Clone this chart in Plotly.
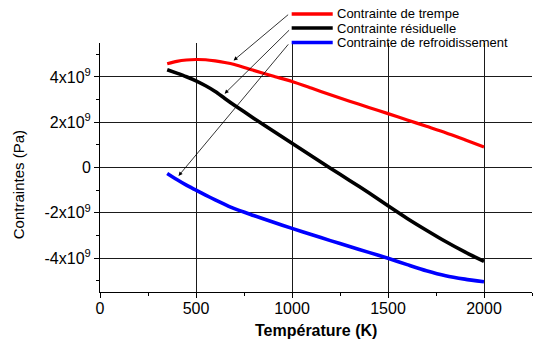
import plotly.graph_objects as go

# ---- data ----
temperature = [350, 400, 450, 500, 550, 600, 650, 700, 800, 900, 1000, 1100,
               1200, 1300, 1400, 1500, 1600, 1700, 1800, 1900, 2000]
trempe = [4.58e9, 4.69e9, 4.75e9, 4.77e9, 4.76e9, 4.71e9, 4.64e9, 4.55e9, 4.29e9,
          4.04e9, 3.80e9, 3.51e9, 3.21e9, 2.93e9, 2.65e9, 2.38e9, 2.10e9, 1.82e9,
          1.54e9, 1.23e9, 0.91e9]
residuelle = [4.32e9, 4.17e9, 4.01e9, 3.83e9, 3.61e9, 3.36e9, 3.05e9, 2.75e9, 2.18e9,
              1.62e9, 1.07e9, 0.52e9, -0.03e9, -0.57e9, -1.12e9, -1.69e9, -2.25e9,
              -2.77e9, -3.27e9, -3.73e9, -4.15e9]
refroid = [-0.26e9, -0.53e9, -0.78e9, -1.00e9, -1.22e9, -1.43e9, -1.63e9, -1.82e9,
           -2.12e9, -2.41e9, -2.69e9, -2.96e9, -3.23e9, -3.49e9, -3.75e9, -4.01e9,
           -4.29e9, -4.56e9, -4.78e9, -4.93e9, -5.05e9]

series_names = ["Contrainte de trempe", "Contrainte résiduelle", "Contrainte de refroidissement"]
series_colors = ["#ff0000", "#000000", "#0000ff"]
series_values = [trempe, residuelle, refroid]
series_widths = [3.2, 3.6, 3.6]

y_tickvals = [-4e9, -2e9, 0, 2e9, 4e9]
y_ticktext = ["-4x10<sup>9</sup>", "-2x10<sup>9</sup>", "0", "2x10<sup>9</sup>", "4x10<sup>9</sup>"]
y_minor = [-5e9, -3e9, -1e9, 1e9, 3e9, 5e9]
x_minor = [250, 750, 1250, 1750, 2250]

# arrow heads (data coords) and tail offsets (px)
arrow_heads = [(696, 4.73e9), (649, 3.26e9), (409, -0.37e9)]
arrow_tails = [(56, -47), (66, -65), (111, -133)]

FONT = "Liberation Sans, Arial, sans-serif"

fig = go.Figure()
for name, col, vals, w in zip(series_names, series_colors, series_values, series_widths):
    fig.add_trace(go.Scatter(x=temperature, y=vals, mode="lines", name=name,
                             line=dict(color=col, width=w, shape="spline", smoothing=0.6),
                             showlegend=False))

# manual legend
leg_y = [1.1165, 1.0602, 1.0016]
for name, col, ly in zip(series_names, series_colors, leg_y):
    fig.add_shape(type="line", xref="paper", yref="paper", x0=0.4437, x1=0.5387,
                  y0=ly, y1=ly, line=dict(color=col, width=3.5))
    fig.add_annotation(xref="paper", yref="paper", x=0.5456, y=ly, text=name,
                       showarrow=False, xanchor="left", yanchor="middle",
                       borderpad=0,
                       font=dict(family=FONT, size=13, color="black"))

for (hx, hy), (tx, ty) in zip(arrow_heads, arrow_tails):
    fig.add_annotation(x=hx, y=hy, ax=tx, ay=ty, text="", showarrow=True,
                       arrowhead=2, arrowsize=1, arrowwidth=0.8, arrowcolor="black",
                       standoff=0, startstandoff=0)

# axis titles as annotations
fig.add_annotation(xref="paper", yref="paper", x=-0.19, y=0.4325, text="Contraintes (Pa)",
                   textangle=-90, showarrow=False, xanchor="center", yanchor="middle",
                   font=dict(family=FONT, size=15, color="black"))
fig.add_annotation(xref="paper", yref="paper", x=0.5, y=-0.154, text="<b>Température (K)</b>",
                   showarrow=False, xanchor="center", yanchor="middle",
                   font=dict(family=FONT, size=16, color="black"))

fig.update_layout(
    width=539, height=342,
    margin=dict(l=100, r=7, t=43, b=50),
    paper_bgcolor="white", plot_bgcolor="white",
    font=dict(family=FONT, size=16, color="black"),
    xaxis=dict(range=[0, 2250], tickmode="linear", tick0=0, dtick=500,
               showline=True, linecolor="black", linewidth=1,
               ticks="outside", ticklen=5, tickcolor="black",
               ticklabelstandoff=-3,
               showgrid=True, gridcolor="#1a1a1a", gridwidth=1, zeroline=False,
               minor=dict(tickmode="array", tickvals=x_minor, ticks="outside",
                          ticklen=3, tickcolor="black", showgrid=False),
               tickfont=dict(family=FONT, size=16, color="black")),
    yaxis=dict(range=[-5.5e9, 5.5e9], tickmode="array", tickvals=y_tickvals,
               ticktext=y_ticktext,
               showline=True, linecolor="black", linewidth=1,
               ticks="outside", ticklen=5, tickcolor="black",
               showgrid=True, gridcolor="#1a1a1a", gridwidth=1, zeroline=False,
               minor=dict(tickmode="array", tickvals=y_minor, ticks="outside",
                          ticklen=3, tickcolor="black", showgrid=False),
               tickfont=dict(family=FONT, size=16, color="black")),
)

fig.write_html("out.html")
